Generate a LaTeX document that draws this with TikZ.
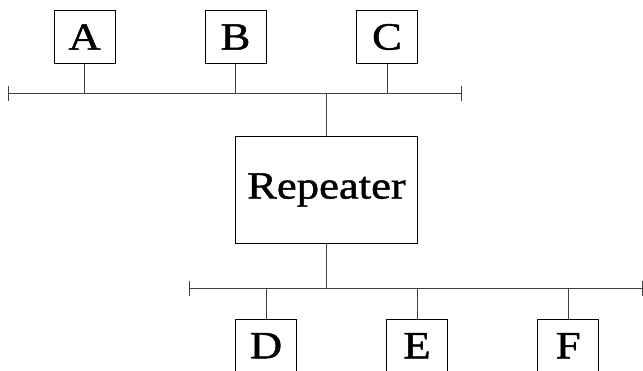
\documentclass[tikz,border=0pt]{standalone}
\usepackage{fontspec}
\setmainfont{Liberation Serif}
\newfontfamily\labelfont[FakeStretch=1.16,FakeBold=1.2]{Liberation Serif}
\usetikzlibrary{arrows.meta}
\begin{document}
\begin{tikzpicture}[x=1pt,y=-1pt,
  station/.style={draw=black,line width=1pt,minimum width=61pt,minimum height=53pt,inner sep=0pt,font=\labelfont\fontsize{38.5}{40}\selectfont,anchor=north west},
  wire/.style={draw=black!75,line width=1pt},
  bus/.style={draw=black!75,line width=1pt,{Bar[width=15pt,line width=1pt]}-{Bar[width=15pt,line width=1pt]}}]
\useasboundingbox (0,0) rectangle (643,371);
\node[station] (A) at (53.5,10) {A};
\node[station] (B) at (204.5,10) {B};
\node[station] (C) at (356,10) {C};
\node[station,minimum width=182pt,minimum height=107pt] (R) at (235,136) {Repeater};
\node[station] (D) at (235,318.7) {D};
\node[station] (E) at (386,318.7) {E};
\node[station] (F) at (537.3,318.7) {F};
\coordinate (t1) at (8.3,93.3);
\coordinate (t2) at (461.7,93.3);
\coordinate (b1) at (189.3,288.3);
\coordinate (b2) at (642.5,288.3);
\draw[bus] (t1) -- (t2);
\draw[bus] (b1) -- (b2);
\draw[wire] (A.south) -- (A.south |- t1);
\draw[wire] (B.south) -- (B.south |- t1);
\draw[wire] (C.south) -- (C.south |- t1);
\draw[wire] (R.north) -- (R.north |- t1);
\draw[wire] (R.south) -- (R.south |- b1);
\draw[wire] (D.north) -- (D.north |- b1);
\draw[wire] (E.north) -- (E.north |- b1);
\draw[wire] (F.north) -- (F.north |- b1);
\end{tikzpicture}
\end{document}
